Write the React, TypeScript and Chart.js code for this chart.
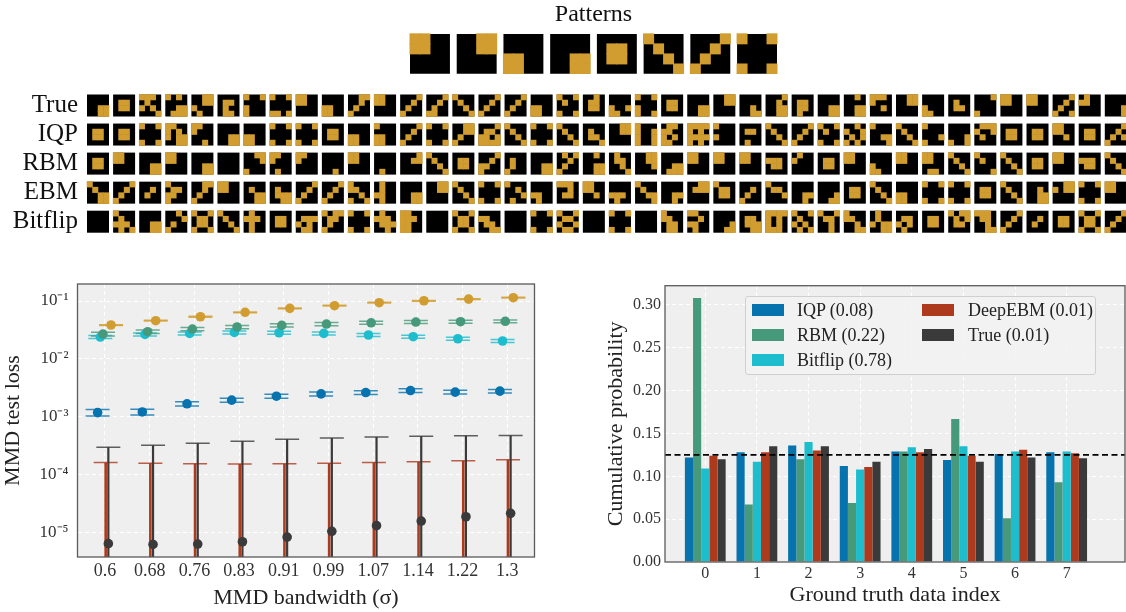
import React, { useEffect, useRef } from "react";
import { Chart, registerables } from "chart.js";

Chart.register(...registerables);
const FONT = "'Liberation Serif', 'Times New Roman', serif";
Chart.defaults.font.family = FONT;

// ---------------- data ----------------
const PATTERNS = [
  "1100.1100.0000.0000",
  "0011.0011.0000.0000",
  "0000.0000.1100.1100",
  "0000.0000.0011.0011",
  "0000.0110.0110.0000",
  "1000.0100.0010.0001",
  "0001.0010.0100.1000",
  "1001.0000.0000.1001",
];

const ROW_NAMES = ["True", "IQP", "RBM", "EBM", "Bitflip"];

const TRUE_SAMPLES = [
  "0000.0000.0011.0011", "0000.0110.0110.0000", "1110.0100.1010.0001", "1010.0000.0011.0111",
  "0011.0011.1000.0100", "0000.0110.0100.0110", "1001.0000.1000.1000", "1001.0000.0000.1101",
  "1100.1100.0000.0000", "0000.0000.1100.1100", "0011.0010.0100.1000", "1100.1100.0000.0000",
  "0001.0010.0100.1000", "0001.0010.0100.1100", "1000.0100.0010.0001", "0001.0010.0100.1000",
  "0001.0010.0100.1000", "0000.0000.1100.1100", "1001.0100.0000.1001", "0010.0110.0110.0000",
  "0000.0000.1001.1100", "1001.0000.1000.1001", "0000.0110.0110.0000", "0000.0000.0011.0011",
  "0011.0011.0000.0000", "0000.0000.0010.0011", "0001.0010.0011.0011", "0000.0110.0110.0100",
  "0000.0000.0011.0011", "0010.0000.0011.0011", "1110.1000.0010.0000", "0011.0011.0000.0000",
  "0000.0000.1000.1100", "0000.0100.0110.0000", "0001.0000.0000.1000", "1100.1100.0000.0000",
  "1100.1100.0000.0000", "0001.0010.0100.1001", "0100.1100.0000.0000", "0000.0000.0001.0001",
];
const IQP_SAMPLES = [
  "0000.0110.0110.0000", "0000.0110.0110.0000", "1001.0000.0000.1001", "1100.1010.1011.0011",
  "1100.1000.0000.0010", "0000.0000.0011.0011", "0000.0000.1100.1100", "1001.0000.0000.1001",
  "1001.0000.0000.1001", "0000.0110.0110.0000", "0000.0000.1100.1100", "1000.0000.1100.1100",
  "0001.0010.0100.1000", "1001.0000.0000.1001", "0011.0011.0100.1000", "0001.0110.1101.1111",
  "1000.0100.0010.0001", "1001.0000.0000.1001", "1000.0100.0010.0001", "0000.0100.0110.0001",
  "0011.0011.0000.0000", "1000.1001.1001.1001", "0110.1100.1010.1100", "1111.1010.1111.1010",
  "1000.0000.1000.0000", "0000.0110.0000.0100", "1000.0100.0010.0001", "0001.0010.0100.1000",
  "1001.0100.0000.1001", "0010.1001.0101.1010", "1000.0000.0011.0001", "1000.0100.0010.0001",
  "1000.0000.0001.1000", "0000.0000.0001.1001", "0111.1001.0100.0000", "0000.0110.0110.0000",
  "0000.0110.0110.0000", "1100.1100.0010.0000", "0000.0110.0110.0000", "0001.0010.0101.1000",
];
const RBM_SAMPLES = [
  "0000.0110.0110.0000", "1100.1100.0000.0000", "0000.0000.0011.0011", "1100.1100.0000.0000",
  "0000.0000.0011.0011", "0000.0000.0000.0000", "0011.0001.0000.1000", "1100.1000.0000.0100",
  "1100.1000.0000.0000", "0000.0000.0000.0010", "1100.1100.0000.0000", "0000.0000.0000.0100",
  "0001.0011.0000.0000", "1000.0100.0010.0001", "0000.0110.0110.0000", "0001.0010.1100.1000",
  "0000.0100.0100.1000", "0000.0000.0011.0011", "0101.0010.0100.1000", "0010.0000.0011.0011",
  "0100.0110.0010.0001", "0011.0011.0001.0000", "0000.0000.0011.0111", "1100.1100.0000.0000",
  "1100.1100.0000.0000", "1100.1100.0000.0000", "0000.1110.0110.0000", "0100.1000.0000.0000",
  "0000.0110.0110.0000", "1100.1100.0000.0000", "0000.0000.1000.1100", "1100.1100.0000.0000",
  "1100.1100.0000.0110", "1000.0100.0010.0001", "1000.0100.0000.0001", "1000.0100.0010.0001",
  "0000.0110.0110.0000", "1100.1100.0000.0000", "0000.1110.0110.0000", "1000.0100.0010.0001",
];
const EBM_SAMPLES = [
  "1000.0100.0011.0011", "0001.0010.0100.1000", "0000.0010.0100.0000", "1000.0110.1100.1000",
  "0011.0010.0100.1000", "1100.1100.0000.0000", "0000.0100.0011.0011", "0000.0100.0111.0011",
  "0001.0010.0100.1000", "0001.0010.0100.1000", "1000.1100.0010.1001", "0100.0100.1100.0100",
  "0000.0000.0011.0011", "0011.0011.0000.0000", "1000.0100.0010.0001", "1001.0000.0000.1001",
  "1000.0010.0001.0100", "0000.0000.1100.0100", "1110.0010.0110.0000", "1100.1100.0010.0000",
  "0000.0000.1110.0100", "1000.0100.0011.0001", "0000.0000.0011.0010", "0011.0111.0000.0000",
  "1000.0110.0110.0000", "0000.0010.0100.1000", "1000.0110.0001.0000", "0000.0000.0011.0010",
  "0000.0000.0001.0011", "0000.0110.0110.0000", "1000.0100.0010.0001", "0000.0000.1100.1100",
  "1001.0000.0000.1001", "1001.0000.0000.1001", "0000.0110.0110.0000", "1000.0100.0010.0001",
  "0000.0010.0011.0011", "0011.1011.0000.0000", "1001.0000.0000.1001", "1100.1100.0000.0000",
];
const BITFLIP_SAMPLES = [
  "0000.0000.0000.0000", "1000.0100.1110.0101", "0000.0000.0011.0011", "0010.0001.0100.1000",
  "1001.0110.0110.1001", "1000.0100.0010.0001", "0100.1110.0100.0100", "0000.0110.0110.0000",
  "0000.0111.1010.0110", "1011.0110.0100.1000", "1001.0000.0000.1001", "0100.1110.0111.0010",
  "1100.1110.1100.1100", "0000.0000.0000.0000", "1001.0110.0110.1001", "0000.1100.0110.0011",
  "0000.0000.0000.0000", "1001.0000.0000.1001", "1001.0110.1001.0110", "0000.0000.0000.0000",
  "1001.0000.0000.1001", "0000.0000.0000.0000", "1000.1100.0110.0110", "1100.0010.1100.0100",
  "0000.0000.0001.0011", "0000.0110.0111.0011", "1111.1010.1010.1110", "1001.0100.1010.0101",
  "1001.0110.0010.0010", "1000.1100.0010.0011", "0100.0100.1011.0011", "0000.0110.1010.0100",
  "0000.0110.0110.0000", "1011.0101.0110.0000", "1110.0110.0010.0011", "0001.0010.0100.1000",
  "0000.0010.0100.0000", "0000.0110.0110.0000", "1001.0110.0110.1001", "0001.0010.0100.1000",
];
const SAMPLE_ROWS = [TRUE_SAMPLES, IQP_SAMPLES, RBM_SAMPLES, EBM_SAMPLES, BITFLIP_SAMPLES];

const BANDWIDTHS = ["0.6", "0.68", "0.76", "0.83", "0.91", "0.99", "1.07", "1.14", "1.22", "1.3"];
const IQP_MMD = [0.00117, 0.0012, 0.00166, 0.00192, 0.00225, 0.00247, 0.0026, 0.00282, 0.00265, 0.00275];
const IQP_STD = [0.00015, 0.00014, 0.00014, 0.00016, 0.00018, 0.0002, 0.0002, 0.00022, 0.0002, 0.0002];
const BITFLIP_MMD = [0.0238, 0.0264, 0.0275, 0.0286, 0.0282, 0.0275, 0.0258, 0.0241, 0.0222, 0.0203];
const BITFLIP_STD = [0.0014, 0.0015, 0.0016, 0.0017, 0.0017, 0.0016, 0.0015, 0.0014, 0.0013, 0.0012];
const RBM_MMD = [0.0268, 0.0294, 0.0327, 0.0355, 0.0379, 0.0399, 0.042, 0.0432, 0.0438, 0.0445];
const RBM_STD = [0.0019, 0.002, 0.0022, 0.0023, 0.0024, 0.0025, 0.0026, 0.0026, 0.0026, 0.0026];
const DEEPEBM_MMD = [2.4e-6, 2.3e-6, 2.2e-6, 2.2e-6, 2.3e-6, 2.4e-6, 2.5e-6, 2.6e-6, 2.7e-6, 2.8e-6];
const DEEPEBM_STD = [1.58e-4, 1.53e-4, 1.5e-4, 1.48e-4, 1.5e-4, 1.53e-4, 1.58e-4, 1.63e-4, 1.69e-4, 1.75e-4];
const TRUE_MMD = [6.3e-6, 6.1e-6, 6.2e-6, 6.8e-6, 8.2e-6, 1.03e-5, 1.29e-5, 1.55e-5, 1.84e-5, 2.11e-5];
const TRUE_STD = [2.89e-4, 3.13e-4, 3.39e-4, 3.66e-4, 3.96e-4, 4.16e-4, 4.31e-4, 4.41e-4, 4.45e-4, 4.49e-4];
const BASELINE_MMD = [0.0384, 0.0456, 0.0534, 0.0637, 0.0747, 0.083, 0.0935, 0.101, 0.108, 0.114];
const BASELINE_STD = [0.0006, 0.0007, 0.0008, 0.0009, 0.0011, 0.0012, 0.0014, 0.0015, 0.0016, 0.0017];
const LOG_TICKS = [1e-5, 1e-4, 1e-3, 1e-2, 1e-1];
const LOG_TICK_LABELS = ["10⁻⁵", "10⁻⁴", "10⁻³", "10⁻²", "10⁻¹"];

const DATA_INDEX = ["0", "1", "2", "3", "4", "5", "6", "7"];
const IQP_PROB = [0.122, 0.128, 0.136, 0.112, 0.129, 0.119, 0.126, 0.128];
const RBM_PROB = [0.308, 0.067, 0.12, 0.069, 0.129, 0.167, 0.051, 0.093];
const BITFLIP_PROB = [0.109, 0.117, 0.14, 0.108, 0.134, 0.135, 0.129, 0.129];
const DEEPEBM_PROB = [0.124, 0.128, 0.13, 0.111, 0.128, 0.124, 0.131, 0.127];
const TRUE_PROB = [0.12, 0.135, 0.135, 0.117, 0.132, 0.117, 0.122, 0.121];
const UNIFORM_LEVEL = 0.125;
const PROB_TICKS = [0, 0.05, 0.1, 0.15, 0.2, 0.25, 0.3];
const PROB_TICK_LABELS = ["0.00", "0.05", "0.10", "0.15", "0.20", "0.25", "0.30"];
const LEGEND_LABELS = ["IQP (0.08)", "RBM (0.22)", "Bitflip (0.78)", "DeepEBM (0.01)", "True (0.01)"];

// ---------------- styles ----------------
const GOLD = "#D19D30";
const BLUE = "#0673AE";
const GREEN = "#469A7B";
const CYAN = "#1DBDCD";
const RED = "#AE3A1D";
const DARK = "#3A3A3A";
const PLOT_BG = "#EFEFEF";
const FRAME = "#5a5a5a";

const PAT_PITCH = 4.68; // pattern pitch, in cells
const TILE_PITCH = 4.745; // sample pitch, in cells
const ROW_TOP = 1.727;
const ROW_PITCH = 5.282;

const framePlugin = {
  id: "frame",
  beforeDraw(chart: any, _a: any, opts: any) {
    if (!opts || !opts.bg) return;
    const { ctx, chartArea: a } = chart;
    ctx.save();
    ctx.fillStyle = opts.bg;
    ctx.fillRect(a.left, a.top, a.right - a.left, a.bottom - a.top);
    ctx.restore();
  },
  afterDraw(chart: any, _a: any, opts: any) {
    if (!opts || !opts.border) return;
    const { ctx, chartArea: a } = chart;
    ctx.save();
    ctx.strokeStyle = opts.border;
    ctx.lineWidth = 1.3;
    ctx.strokeRect(a.left, a.top, a.right - a.left, a.bottom - a.top);
    ctx.restore();
  },
};

function fixBox(size: { width?: number; height?: number }) {
  return (s: any) => {
    if (size.width !== undefined) s.width = size.width;
    if (size.height !== undefined) s.height = size.height;
    s.paddingTop = 0;
    s.paddingBottom = 0;
    s.paddingLeft = 0;
    s.paddingRight = 0;
  };
}

function cellPx(chart: any) {
  const s = chart.scales.x;
  return Math.abs(s.getPixelForValue(1) - s.getPixelForValue(0));
}

function goldCells(bits: string, ox: number, oy: number) {
  const pts: { x: number; y: number }[] = [];
  bits.split(".").forEach((row, k) =>
    row.split("").forEach((b, j) => {
      if (b === "1") pts.push({ x: ox + j + 0.5, y: oy + k + 0.5 });
    })
  );
  return pts;
}

function tileDatasets(tiles: { bits: string; ox: number; oy: number }[]) {
  return [
    {
      data: tiles.map((t) => ({ x: t.ox + 2, y: t.oy + 2 })),
      pointStyle: "rect",
      backgroundColor: "#000000",
      borderWidth: 0,
      pointRadius: (c: any) => (cellPx(c.chart) * 4) / Math.SQRT2,
      pointHoverRadius: (c: any) => (cellPx(c.chart) * 4) / Math.SQRT2,
      clip: false,
      order: 2,
    },
    {
      data: tiles.flatMap((t) => goldCells(t.bits, t.ox, t.oy)),
      pointStyle: "rect",
      backgroundColor: GOLD,
      borderWidth: 0,
      pointRadius: (c: any) => (cellPx(c.chart) * 1.1) / Math.SQRT2,
      pointHoverRadius: (c: any) => (cellPx(c.chart) * 1.1) / Math.SQRT2,
      clip: false,
      order: 1,
    },
  ];
}

const baseOpts = {
  responsive: false,
  animation: false as const,
  devicePixelRatio: 1,
  events: [] as any[],
};

function patternConfig(): any {
  const tiles = PATTERNS.map((bits, p) => ({ bits, ox: p * PAT_PITCH, oy: 0 }));
  return {
    type: "scatter",
    data: { datasets: tileDatasets(tiles) },
    options: {
      ...baseOpts,
      layout: { autoPadding: false, padding: { left: 5, right: 5, top: 0, bottom: 0 } },
      plugins: {
        legend: { display: false },
        tooltip: { enabled: false },
        title: {
          display: true,
          text: "Patterns",
          color: "#111",
          font: { size: 24, weight: "normal", family: FONT },
          padding: { top: 0, bottom: 5 },
        },
      },
      scales: {
        x: { type: "linear", min: 0, max: 7 * PAT_PITCH + 4, display: false },
        y: { type: "linear", min: 0, max: 4, reverse: true, display: false },
      },
    },
  };
}

function samplesConfig(): any {
  const tiles = SAMPLE_ROWS.flatMap((row, r) =>
    row.map((bits, i) => ({ bits, ox: i * TILE_PITCH, oy: ROW_TOP + r * ROW_PITCH }))
  );
  return {
    type: "scatter",
    data: { datasets: tileDatasets(tiles) },
    options: {
      ...baseOpts,
      layout: { autoPadding: false, padding: 0 },
      plugins: { legend: { display: false }, tooltip: { enabled: false } },
      scales: {
        x: { type: "linear", min: 0, max: 1039 / 5.5, display: false },
        y: {
          type: "linear",
          min: 0,
          max: 155 / 5.5,
          reverse: true,
          afterFit: fixBox({ width: 87 }),
          afterBuildTicks: (s: any) => {
            s.ticks = ROW_NAMES.map((_, r) => ({ value: ROW_TOP + r * ROW_PITCH + 2 }));
          },
          grid: { display: false, drawTicks: false },
          border: { display: false },
          ticks: {
            autoSkip: false,
            padding: 9,
            color: "#111",
            font: { size: 25, family: FONT },
            callback: (_v: any, i: number) => ROW_NAMES[i],
          },
        },
      },
    },
  };
}

function mmdConfig(): any {
  const series = [
    { mean: IQP_MMD, std: IQP_STD, color: BLUE, off: -0.165, stem: 1.3 },
    { mean: BITFLIP_MMD, std: BITFLIP_STD, color: CYAN, off: -0.105, stem: 1.3 },
    { mean: RBM_MMD, std: RBM_STD, color: GREEN, off: -0.045, stem: 1.3 },
    { mean: DEEPEBM_MMD, std: DEEPEBM_STD, color: RED, off: 0.015, stem: 2.6 },
    { mean: TRUE_MMD, std: TRUE_STD, color: DARK, off: 0.075, stem: 2.2 },
    { mean: BASELINE_MMD, std: BASELINE_STD, color: GOLD, off: 0.135, stem: 1.3 },
  ];
  const datasets: any[] = [];
  series.forEach((s, si) => {
    const stems: any[] = [];
    const caps: any[] = [];
    s.mean.forEach((m, i) => {
      const x = i + s.off;
      const lo = Math.max(m - s.std[i], 1e-9);
      const hi = m + s.std[i];
      stems.push({ x, y: lo }, { x, y: hi }, { x, y: null });
      caps.push({ x, y: lo }, { x, y: hi });
    });
    datasets.push({
      type: "line",
      data: stems,
      borderColor: s.color,
      borderWidth: s.stem,
      pointRadius: 0,
      spanGaps: false,
      order: 20 - si,
    });
    datasets.push({
      type: "scatter",
      data: caps,
      pointStyle: "line",
      pointRadius: 12,
      pointHoverRadius: 12,
      borderColor: s.color + "cc",
      pointBorderColor: s.color + "cc",
      pointBorderWidth: 1.5,
      borderWidth: 1.5,
      order: 20 - si,
    });
  });
  series.forEach((s, si) => {
    datasets.push({
      type: "scatter",
      data: s.mean.map((m, i) => ({ x: i + s.off, y: m })),
      pointStyle: "circle",
      pointRadius: 4.8,
      pointHoverRadius: 4.8,
      backgroundColor: s.color,
      borderColor: s.color,
      borderWidth: 0,
      order: 10 - si,
    });
  });
  return {
    type: "scatter",
    data: { datasets },
    plugins: [framePlugin],
    options: {
      ...baseOpts,
      layout: { autoPadding: false, padding: { top: 9, right: 25.5, left: 0, bottom: 0 } },
      plugins: {
        legend: { display: false },
        tooltip: { enabled: false },
        frame: { bg: PLOT_BG, border: FRAME },
      },
      scales: {
        x: {
          type: "linear",
          min: -0.615,
          max: 9.609,
          afterBuildTicks: (a: any) => {
            a.ticks = BANDWIDTHS.map((_, i) => ({ value: i }));
          },
          afterFit: fixBox({ height: 55 }),
          grid: { color: "#ffffff", lineWidth: 1, drawTicks: false },
          border: { display: false, dash: [4, 3] },
          ticks: {
            autoSkip: false,
            maxRotation: 0,
            padding: 3,
            color: "#333",
            font: { size: 18, family: FONT },
            callback: (_v: any, i: number) => BANDWIDTHS[i],
          },
          title: {
            display: true,
            text: "MMD bandwidth (σ)",
            color: "#222",
            font: { size: 22, family: FONT },
            padding: { top: 0, bottom: 1 },
          },
        },
        y: {
          type: "logarithmic",
          min: 3.7e-6,
          max: 0.197,
          afterBuildTicks: (a: any) => {
            a.ticks = LOG_TICKS.map((v) => ({ value: v }));
          },
          afterFit: fixBox({ width: 77.5 }),
          grid: { color: "#ffffff", lineWidth: 1, drawTicks: false },
          border: { display: false, dash: [4, 3] },
          ticks: {
            autoSkip: false,
            padding: 9,
            color: "#333",
            font: { size: 17, family: FONT },
            callback: (_v: any, i: number) => LOG_TICK_LABELS[i],
          },
          title: {
            display: true,
            text: "MMD test loss",
            color: "#222",
            font: { size: 22, family: FONT },
            padding: { top: 0, bottom: 0 },
          },
        },
      },
    },
  };
}

function probConfig(): any {
  const bars = [
    { v: IQP_PROB, c: BLUE },
    { v: RBM_PROB, c: GREEN },
    { v: BITFLIP_PROB, c: CYAN },
    { v: DEEPEBM_PROB, c: RED },
    { v: TRUE_PROB, c: DARK },
  ];
  const datasets: any[] = bars.map((b, k) => ({
    type: "bar",
    label: LEGEND_LABELS[k],
    data: b.v.map((y, i) => ({ x: i, y })),
    backgroundColor: b.c,
    borderWidth: 0,
    categoryPercentage: 0.79,
    barPercentage: 1,
    order: 2,
  }));
  datasets.push({
    type: "line",
    data: [
      { x: -0.78, y: UNIFORM_LEVEL },
      { x: 8.13, y: UNIFORM_LEVEL },
    ],
    borderColor: "#000000",
    borderWidth: 1.6,
    borderDash: [6, 3.5],
    pointRadius: 0,
    order: 0,
  });
  return {
    type: "bar",
    data: { datasets },
    plugins: [framePlugin],
    options: {
      ...baseOpts,
      layout: { autoPadding: false, padding: { top: 10.7, right: 1, left: 0, bottom: 0 } },
      plugins: {
        legend: { display: false },
        tooltip: { enabled: false },
        frame: { bg: PLOT_BG, border: FRAME },
      },
      scales: {
        x: {
          type: "linear",
          offset: false,
          min: -0.78,
          max: 8.13,
          afterBuildTicks: (a: any) => {
            a.ticks = DATA_INDEX.map((_, i) => ({ value: i }));
          },
          afterFit: fixBox({ height: 50 }),
          grid: { color: "#ffffff", lineWidth: 1, drawTicks: false, offset: false },
          border: { display: false, dash: [4, 3] },
          ticks: {
            autoSkip: false,
            maxRotation: 0,
            padding: 2,
            color: "#333",
            font: { size: 16, family: FONT },
            callback: (_v: any, i: number) => DATA_INDEX[i],
          },
          title: {
            display: true,
            text: "Ground truth data index",
            color: "#222",
            font: { size: 22, family: FONT },
            padding: { top: 0, bottom: 4 },
          },
        },
        y: {
          type: "linear",
          min: 0,
          max: 0.3225,
          afterBuildTicks: (a: any) => {
            a.ticks = PROB_TICKS.map((v) => ({ value: v }));
          },
          afterFit: fixBox({ width: 85 }),
          grid: { color: "#ffffff", lineWidth: 1, drawTicks: false },
          border: { display: false, dash: [4, 3] },
          ticks: {
            autoSkip: false,
            padding: 4,
            color: "#333",
            font: { size: 16, family: FONT },
            callback: (_v: any, i: number) => PROB_TICK_LABELS[i],
          },
          title: {
            display: true,
            text: "Cumulative probability",
            color: "#222",
            font: { size: 22, family: FONT },
            padding: { top: 23, bottom: 0 },
          },
        },
      },
    },
  };
}

const LEGEND_COLORS = [BLUE, GREEN, CYAN, RED, DARK];
const LEGEND_SLOTS = [
  [0, 0],
  [0, 1],
  [0, 2],
  [1, 0],
  [1, 1],
];

function Legend() {
  return (
    <div
      style={{
        position: "absolute",
        left: 745,
        top: 296,
        width: 351,
        height: 79,
        boxSizing: "border-box",
        border: "1.3px solid #cfcfcf",
        borderRadius: 3,
        background: "rgba(242,242,242,0.85)",
        fontFamily: FONT,
        fontSize: 18,
        color: "#222",
      }}
    >
      {LEGEND_LABELS.map((label, k) => {
        const [col, row] = LEGEND_SLOTS[k];
        const cy = 13 + row * 25;
        return (
          <React.Fragment key={label}>
            <div
              style={{
                position: "absolute",
                left: col === 0 ? 6 : 176,
                top: cy - 6,
                width: 32,
                height: 12,
                background: LEGEND_COLORS[k],
              }}
            />
            <div
              style={{
                position: "absolute",
                left: col === 0 ? 51 : 222,
                top: cy - 11,
                height: 22,
                lineHeight: "22px",
                whiteSpace: "nowrap",
              }}
            >
              {label}
            </div>
          </React.Fragment>
        );
      })}
    </div>
  );
}

export default function App() {
  const patRef = useRef<HTMLCanvasElement>(null);
  const smpRef = useRef<HTMLCanvasElement>(null);
  const mmdRef = useRef<HTMLCanvasElement>(null);
  const prbRef = useRef<HTMLCanvasElement>(null);

  useEffect(() => {
    const charts = [
      new Chart(patRef.current as HTMLCanvasElement, patternConfig()),
      new Chart(smpRef.current as HTMLCanvasElement, samplesConfig()),
      new Chart(mmdRef.current as HTMLCanvasElement, mmdConfig()),
      new Chart(prbRef.current as HTMLCanvasElement, probConfig()),
    ];
    return () => charts.forEach((c) => c.destroy());
  }, []);

  const abs = (l: number, t: number, w: number, h: number): React.CSSProperties => ({
    position: "absolute",
    left: l,
    top: t,
    width: w,
    height: h,
  });

  return (
    <div style={{ position: "absolute", left: 0, top: 0, width: 1126, height: 612, background: "#fff", overflow: "hidden" }}>
      <canvas ref={patRef} width={377} height={74} style={abs(405, 0, 377, 74)} />
      <canvas ref={smpRef} width={1126} height={155} style={abs(0, 85, 1126, 155)} />
      <canvas ref={mmdRef} width={560} height={337} style={abs(0, 275, 560, 337)} />
      <canvas ref={prbRef} width={546} height={337} style={abs(580, 275, 546, 337)} />
      <Legend />
    </div>
  );
}
